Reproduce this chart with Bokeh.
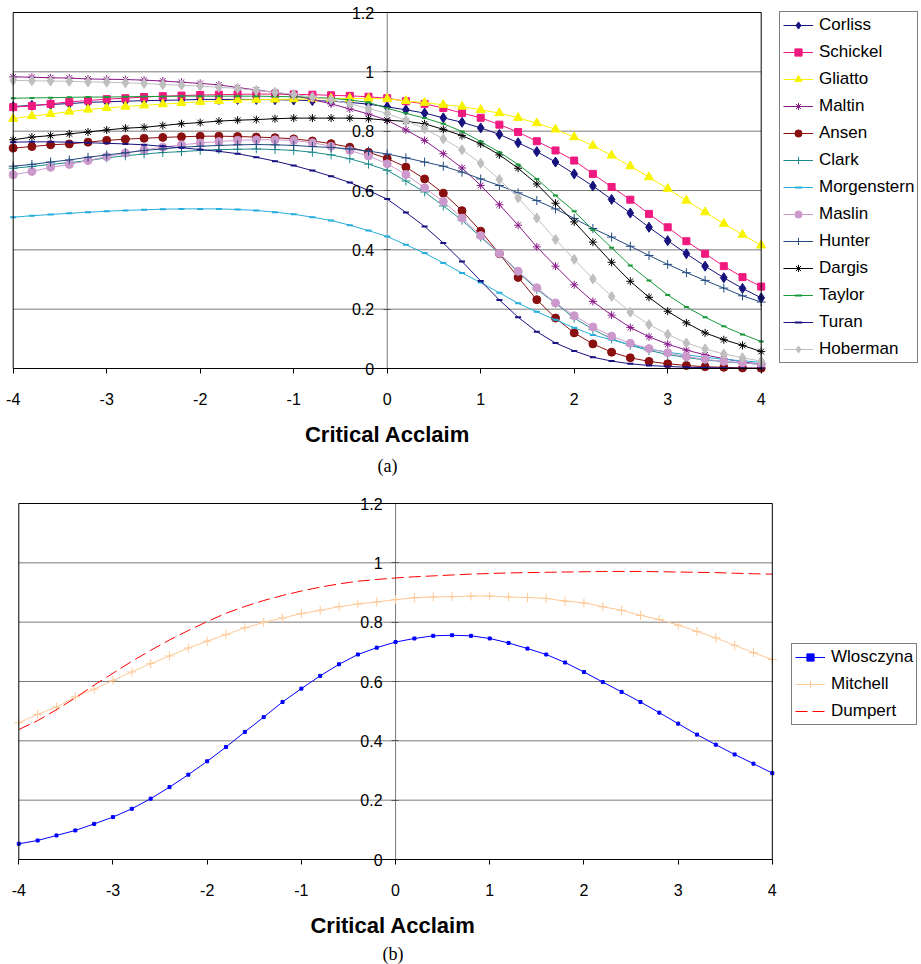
from bokeh.plotting import figure
from bokeh.models import (FixedTicker, Legend, LegendItem, Title, Range1d, Label,
                          LinearAxis, BoxAnnotation)
from bokeh.layouts import column
from bokeh.embed import file_html
from bokeh.resources import INLINE

# Critical acclaim grid shared by every curve
ACCLAIM = [-4.0, -3.8, -3.6, -3.4, -3.2, -3.0, -2.8, -2.6, -2.4, -2.2, -2.0,
           -1.8, -1.6, -1.4, -1.2, -1.0, -0.8, -0.6, -0.4, -0.2, 0.0,
           0.2, 0.4, 0.6, 0.8, 1.0, 1.2, 1.4, 1.6, 1.8, 2.0,
           2.2, 2.4, 2.6, 2.8, 3.0, 3.2, 3.4, 3.6, 3.8, 4.0]

# Panel (a) critics
CORLISS = [0.883, 0.887, 0.890, 0.893, 0.897, 0.899, 0.901, 0.903, 0.904, 0.905, 0.907,
           0.907, 0.907, 0.907, 0.906, 0.905, 0.903, 0.901, 0.897, 0.891, 0.882,
           0.872, 0.861, 0.845, 0.830, 0.811, 0.789, 0.761, 0.731, 0.696, 0.656,
           0.615, 0.570, 0.524, 0.476, 0.431, 0.387, 0.345, 0.306, 0.270, 0.238]
SCHICKEL = [0.881, 0.885, 0.892, 0.899, 0.903, 0.908, 0.911, 0.915, 0.918, 0.920, 0.922,
            0.923, 0.924, 0.925, 0.925, 0.924, 0.923, 0.921, 0.919, 0.916, 0.911,
            0.901, 0.892, 0.878, 0.861, 0.845, 0.822, 0.797, 0.766, 0.735, 0.701,
            0.656, 0.612, 0.569, 0.521, 0.476, 0.429, 0.387, 0.345, 0.308, 0.276]
GLIATTO = [0.842, 0.851, 0.858, 0.866, 0.873, 0.878, 0.883, 0.887, 0.891, 0.895, 0.899,
           0.902, 0.905, 0.906, 0.907, 0.908, 0.909, 0.910, 0.910, 0.910, 0.909,
           0.902, 0.896, 0.889, 0.883, 0.872, 0.861, 0.845, 0.827, 0.806, 0.780,
           0.751, 0.718, 0.682, 0.645, 0.606, 0.566, 0.527, 0.488, 0.451, 0.415]
MALTIN = [0.983, 0.982, 0.980, 0.979, 0.976, 0.975, 0.974, 0.972, 0.969, 0.965, 0.961,
          0.956, 0.947, 0.939, 0.931, 0.920, 0.907, 0.892, 0.875, 0.858, 0.837,
          0.804, 0.769, 0.724, 0.676, 0.617, 0.552, 0.483, 0.410, 0.345, 0.282,
          0.226, 0.180, 0.138, 0.107, 0.082, 0.062, 0.046, 0.033, 0.022, 0.015]
ANSEN = [0.743, 0.748, 0.754, 0.757, 0.763, 0.769, 0.773, 0.776, 0.779, 0.781, 0.783,
         0.783, 0.782, 0.780, 0.778, 0.774, 0.767, 0.758, 0.746, 0.729, 0.708,
         0.679, 0.639, 0.591, 0.532, 0.463, 0.387, 0.307, 0.232, 0.170, 0.120,
         0.083, 0.055, 0.036, 0.024, 0.016, 0.010, 0.006, 0.004, 0.002, 0.001]
CLARK = [0.675, 0.681, 0.688, 0.694, 0.701, 0.710, 0.717, 0.723, 0.728, 0.731, 0.735,
         0.738, 0.739, 0.740, 0.738, 0.735, 0.729, 0.720, 0.707, 0.689, 0.668,
         0.632, 0.595, 0.548, 0.500, 0.443, 0.387, 0.325, 0.267, 0.220, 0.170,
         0.132, 0.100, 0.078, 0.061, 0.047, 0.037, 0.029, 0.023, 0.018, 0.015]
MORGENSTERN = [0.510, 0.515, 0.519, 0.523, 0.527, 0.530, 0.533, 0.535, 0.537, 0.538, 0.538,
               0.538, 0.536, 0.533, 0.527, 0.520, 0.510, 0.499, 0.483, 0.465, 0.445,
               0.417, 0.389, 0.356, 0.322, 0.290, 0.255, 0.220, 0.191, 0.164, 0.137,
               0.113, 0.097, 0.080, 0.066, 0.055, 0.046, 0.038, 0.031, 0.026, 0.021]
MASLIN = [0.653, 0.664, 0.678, 0.688, 0.701, 0.714, 0.726, 0.737, 0.746, 0.754, 0.760,
          0.765, 0.769, 0.771, 0.771, 0.769, 0.761, 0.749, 0.735, 0.716, 0.690,
          0.654, 0.609, 0.563, 0.507, 0.448, 0.388, 0.328, 0.272, 0.221, 0.178,
          0.140, 0.109, 0.085, 0.067, 0.053, 0.040, 0.031, 0.024, 0.019, 0.014]
HUNTER = [0.682, 0.688, 0.696, 0.703, 0.712, 0.720, 0.727, 0.735, 0.740, 0.746, 0.749,
          0.752, 0.754, 0.755, 0.754, 0.752, 0.748, 0.745, 0.740, 0.733, 0.723,
          0.710, 0.696, 0.682, 0.662, 0.639, 0.617, 0.592, 0.566, 0.538, 0.506,
          0.472, 0.443, 0.412, 0.381, 0.351, 0.323, 0.297, 0.271, 0.245, 0.224]
DARGIS = [0.771, 0.780, 0.785, 0.791, 0.797, 0.804, 0.810, 0.813, 0.819, 0.825, 0.829,
          0.834, 0.837, 0.839, 0.842, 0.844, 0.844, 0.844, 0.844, 0.842, 0.837,
          0.833, 0.825, 0.806, 0.785, 0.757, 0.720, 0.675, 0.622, 0.557, 0.494,
          0.426, 0.358, 0.294, 0.240, 0.193, 0.154, 0.120, 0.097, 0.078, 0.057]
TAYLOR = [0.911, 0.912, 0.913, 0.914, 0.915, 0.915, 0.916, 0.917, 0.917, 0.918, 0.918,
          0.918, 0.918, 0.918, 0.917, 0.916, 0.914, 0.911, 0.905, 0.897, 0.877,
          0.860, 0.844, 0.825, 0.799, 0.765, 0.729, 0.688, 0.639, 0.583, 0.530,
          0.467, 0.407, 0.347, 0.297, 0.248, 0.207, 0.173, 0.142, 0.115, 0.091]
TURAN = [0.763, 0.764, 0.764, 0.763, 0.761, 0.759, 0.757, 0.754, 0.749, 0.744, 0.738,
         0.732, 0.724, 0.712, 0.699, 0.684, 0.667, 0.648, 0.627, 0.600, 0.571,
         0.526, 0.479, 0.423, 0.361, 0.295, 0.231, 0.173, 0.124, 0.086, 0.059,
         0.038, 0.025, 0.016, 0.010, 0.007, 0.004, 0.003, 0.002, 0.001, 0.001]
HOBERMAN = [0.971, 0.970, 0.969, 0.968, 0.966, 0.965, 0.963, 0.961, 0.957, 0.955, 0.952,
            0.948, 0.944, 0.937, 0.931, 0.924, 0.915, 0.906, 0.892, 0.876, 0.860,
            0.836, 0.808, 0.774, 0.737, 0.692, 0.637, 0.575, 0.507, 0.435, 0.368,
            0.302, 0.243, 0.190, 0.148, 0.115, 0.086, 0.066, 0.049, 0.036, 0.025]

# Panel (b) critics
WLOSCZYNA = [0.053, 0.064, 0.081, 0.098, 0.120, 0.143, 0.171, 0.205, 0.244, 0.286, 0.331,
             0.379, 0.430, 0.480, 0.531, 0.576, 0.619, 0.658, 0.691, 0.714, 0.733,
             0.745, 0.754, 0.756, 0.754, 0.745, 0.730, 0.711, 0.691, 0.664, 0.632,
             0.598, 0.565, 0.531, 0.495, 0.458, 0.421, 0.387, 0.354, 0.323, 0.291]
MITCHELL = [0.461, 0.489, 0.514, 0.548, 0.574, 0.604, 0.632, 0.660, 0.686, 0.713, 0.736,
            0.758, 0.781, 0.799, 0.814, 0.829, 0.840, 0.852, 0.861, 0.868, 0.876,
            0.882, 0.885, 0.886, 0.888, 0.888, 0.885, 0.883, 0.880, 0.871, 0.865,
            0.852, 0.840, 0.823, 0.809, 0.790, 0.769, 0.747, 0.722, 0.697, 0.674]
DUMPERT = [0.438, 0.468, 0.505, 0.545, 0.588, 0.628, 0.668, 0.705, 0.740, 0.772, 0.802,
           0.830, 0.853, 0.873, 0.890, 0.905, 0.918, 0.929, 0.938, 0.944, 0.949,
           0.953, 0.956, 0.959, 0.962, 0.964, 0.966, 0.967, 0.968, 0.969, 0.970,
           0.971, 0.971, 0.971, 0.970, 0.969, 0.968, 0.967, 0.965, 0.963, 0.962]

PANEL_A_NAMES = ["Corliss", "Schickel", "Gliatto", "Maltin", "Ansen", "Clark", "Morgenstern",
                 "Maslin", "Hunter", "Dargis", "Taylor", "Turan", "Hoberman"]
PANEL_A_VALUES = [CORLISS, SCHICKEL, GLIATTO, MALTIN, ANSEN, CLARK, MORGENSTERN,
                  MASLIN, HUNTER, DARGIS, TAYLOR, TURAN, HOBERMAN]
PANEL_B_NAMES = ["Wlosczyna", "Mitchell", "Dumpert"]
PANEL_B_VALUES = [WLOSCZYNA, MITCHELL, DUMPERT]

X_TICKS = [-4, -3, -2, -1, 0, 1, 2, 3, 4]
X_TICK_LABELS = ["-4", "-3", "-2", "-1", "0", "1", "2", "3", "4"]
Y_TICKS = [0, 0.2, 0.4, 0.6, 0.8, 1, 1.2]
Y_TICK_LABELS = ["0", "0.2", "0.4", "0.6", "0.8", "1", "1.2"]
AXIS_TITLE = "Critical Acclaim"

# Line/marker styling per series: (color, marker, size, marker line width)
STYLE_A = [
    ("#16127E", "diamond", 10, 1),
    ("#F0197F", "square", 7, 1),
    ("#F8F400", "triangle", 9, 1),
    ("#8A1A8A", "asterisk", 8, 1),
    ("#8A1010", "circle", 8, 1),
    ("#1E8C8C", "cross", 9, 1),
    ("#26AEDC", "dash", 6, 2),
    ("#CC99CC", "circle", 8, 1),
    ("#244A80", "cross", 9, 1),
    ("#000000", "asterisk", 8, 1),
    ("#1A9A3A", "dash", 5, 2),
    ("#1A1280", "dash", 6, 2),
    ("#BFBFBF", "diamond", 10, 1),
]
STYLE_B = [
    ("#0000FF", "square", 3, 1, "solid"),
    ("#FFC896", "cross", 9, 1, "solid"),
    ("#FF0000", None, 0, 1, "12 5"),
]

SANS = "Liberation Sans"
SERIF = "Liberation Serif"
GRID = "#7a7a7a"

X_LO, X_HI = X_TICKS[0], X_TICKS[-1]
Y_LO, Y_HI = Y_TICKS[0], Y_TICKS[-1]
PX_PER_Y = 356 / (Y_HI - Y_LO)


def make_panel(px_per_x, pad_left, pad_right, top, bottom, caption, caption_gap):
    # the frame carries a little slack around the plotted box so that edge markers
    # and the crossing axis' end labels are drawn whole
    pad_top, pad_bottom = 12, 13
    frame_w = round(pad_left + px_per_x * (X_HI - X_LO) + pad_right)
    x0 = X_LO - pad_left / px_per_x
    y0 = Y_LO - pad_bottom / PX_PER_Y
    p = figure(frame_width=frame_w, frame_height=356 + pad_top + pad_bottom,
               x_range=Range1d(x0, x0 + frame_w / px_per_x),
               y_range=Range1d(y0, y0 + (356 + pad_top + pad_bottom) / PX_PER_Y),
               output_backend="svg", toolbar_location=None,
               min_border_left=5, min_border_right=921 - 5 - frame_w,
               min_border_top=top, min_border_bottom=bottom)
    p.background_fill_color = "white"
    p.border_fill_color = "white"
    p.outline_line_color = None
    p.xgrid.visible = False
    p.ygrid.visible = False

    # horizontal grid lines and the vertical axis line at zero acclaim
    p.segment(x0=[X_LO] * len(Y_TICKS), x1=[X_HI] * len(Y_TICKS), y0=Y_TICKS, y1=Y_TICKS,
              line_color=GRID, line_width=1)
    p.segment(x0=[0], x1=[0], y0=[Y_LO], y1=[Y_HI], line_color=GRID, line_width=1)
    # plot box border
    p.add_layout(BoxAnnotation(left=X_LO, right=X_HI, bottom=Y_LO, top=Y_HI,
                               fill_color=None, fill_alpha=0, line_color="black",
                               line_width=1, line_alpha=1))

    # bottom axis: tick labels and title
    xa = p.xaxis[0]
    xa.ticker = FixedTicker(ticks=X_TICKS)
    xa.major_label_overrides = dict(zip(X_TICKS, X_TICK_LABELS))
    xa.axis_line_color = None
    xa.major_tick_line_color = None
    xa.major_tick_out = 0
    xa.major_tick_in = 0
    xa.minor_tick_out = 0
    xa.minor_tick_in = 0
    xa.major_label_text_font = SANS
    xa.major_label_text_font_size = "16px"
    xa.major_label_text_color = "black"
    xa.major_label_standoff = 11
    xa.axis_label = AXIS_TITLE
    xa.axis_label_text_font = SANS
    xa.axis_label_text_font_size = "22px"
    xa.axis_label_text_font_style = "bold"
    xa.axis_label_text_color = "black"
    xa.axis_label_standoff = 14

    # tick marks hanging under the zero line
    xt = LinearAxis(fixed_location=0, ticker=FixedTicker(ticks=X_TICKS),
                    axis_line_color=None, major_tick_line_color="black",
                    major_tick_out=5, major_tick_in=0, minor_tick_out=0, minor_tick_in=0,
                    major_label_text_color=None)
    p.add_layout(xt, "below")

    # vertical axis crossing at zero acclaim
    ya = p.yaxis[0]
    ya.fixed_location = 0
    ya.ticker = FixedTicker(ticks=Y_TICKS)
    ya.axis_line_color = None
    ya.major_tick_line_color = "#555555"
    ya.major_tick_out = 4
    ya.major_tick_in = 3
    ya.minor_tick_out = 0
    ya.minor_tick_in = 0
    ya.major_label_text_color = None
    for tick, text in zip(Y_TICKS, Y_TICK_LABELS):
        p.add_layout(Label(x=0, y=tick, text=text, x_offset=-13,
                           text_align="right", text_baseline="middle",
                           text_font=SANS, text_font_size="16px", text_color="black"))

    p.add_layout(Title(text=caption, align="center", text_font=SERIF,
                       text_font_size="18px", text_font_style="normal",
                       text_color="black", standoff=caption_gap), "below")
    return p


def style_legend(items, location):
    return Legend(items=items, location=location, margin=0, padding=3,
                  spacing=7, glyph_width=30, glyph_height=18, label_height=18,
                  label_standoff=6, label_text_font=SANS, label_text_font_size="17px",
                  label_text_color="black", border_line_color="black",
                  border_line_width=1, background_fill_color="white",
                  background_fill_alpha=1.0)


# ---- panel (a)
pa = make_panel(93.5, 7.7, 8, 0, 101, "(a)", 9)
items_a = []
for name, vals, (color, marker, size, mlw) in zip(PANEL_A_NAMES, PANEL_A_VALUES, STYLE_A):
    r_line = pa.line(ACCLAIM, vals, line_color=color, line_width=1)
    r_mark = pa.scatter(ACCLAIM, vals, marker=marker, size=size, line_color=color,
                        fill_color=color, line_width=mlw)
    items_a.append(LegendItem(label=name, renderers=[r_line, r_mark]))
pa.add_layout(style_legend(items_a, (10, 18)), "right")

# ---- panel (b)
pb = make_panel(94.19, 13.3, 8, 9, 92, "(b)", 3)
items_b = []
for name, vals, (color, marker, size, mlw, dash) in zip(PANEL_B_NAMES, PANEL_B_VALUES, STYLE_B):
    renderers = [pb.line(ACCLAIM, vals, line_color=color, line_width=1, line_dash=dash)]
    if marker is not None:
        renderers.append(pb.scatter(ACCLAIM, vals, marker=marker, size=size,
                                    line_color=color, fill_color=color, line_width=mlw))
    items_b.append(LegendItem(label=name, renderers=renderers))
pb.add_layout(style_legend(items_b, (11, 147)), "right")

layout = column(pa, pb, spacing=0)
open("out.html", "w").write(file_html(layout, INLINE))
